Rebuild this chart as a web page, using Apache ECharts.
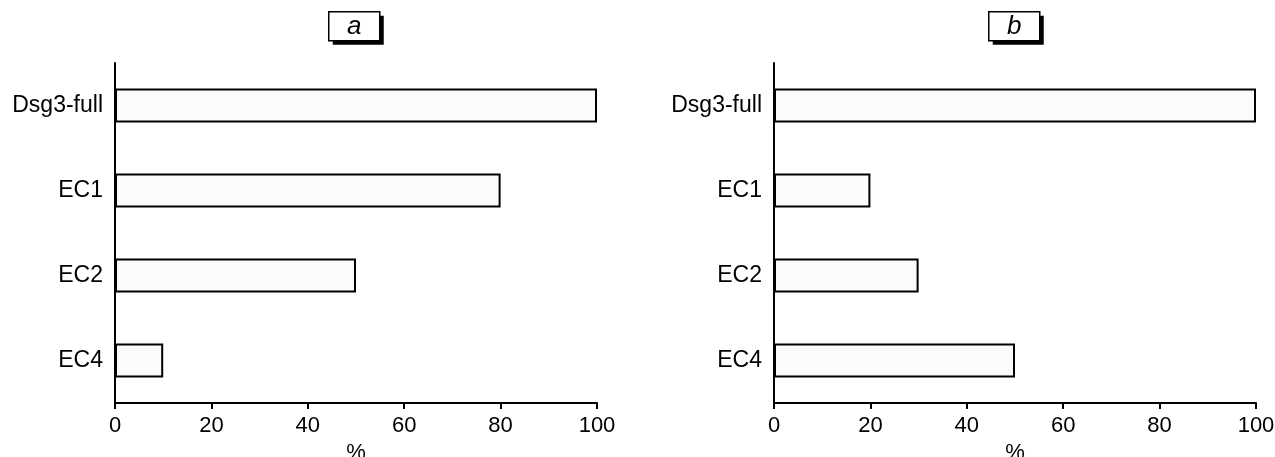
<!DOCTYPE html>
<html>
<head>
<meta charset="utf-8">
<script src="https://cdn.jsdelivr.net/npm/echarts@6/dist/echarts.min.js"></script>
<style>
  html, body { margin: 0; padding: 0; background: #fff; }
  #chart { width: 1275px; height: 457px; }
</style>
</head>
<body>
<div id="chart"></div>
<script>
const categories = ["Dsg3-full", "EC1", "EC2", "EC4"];
const valuesA = [100, 80, 50, 10];
const valuesB = [100, 20, 30, 50];
const panelLabels = ["a", "b"];

const font = "Liberation Sans, Arial, sans-serif";
const myChart = echarts.init(document.getElementById("chart"));

// boxed panel letter with a hard black drop shadow
const panelBox = (text, x) => ({
  type: "group",
  left: x,
  top: 11,
  children: [
    { type: "rect", shape: { x: 4, y: 4, width: 51, height: 29 }, style: { fill: "#000" } },
    { type: "rect", shape: { x: 0, y: 0, width: 51, height: 29 }, style: { fill: "#fff", stroke: "#000", lineWidth: 1.5 } },
    {
      type: "text", x: 25.5, y: 15,
      style: { text: text, fill: "#000", font: "italic 26px " + font, align: "center", verticalAlign: "middle" }
    }
  ]
});

const xAxis = (idx) => ({
  gridIndex: idx,
  type: "value",
  min: 0,
  max: 100,
  interval: 20,
  name: "%",
  nameLocation: "middle",
  nameGap: 32,
  nameTextStyle: { fontFamily: font, fontSize: 22, color: "#000" },
  axisLine: { show: true, lineStyle: { color: "#000", width: 2 } },
  axisTick: { show: true, length: 6, lineStyle: { color: "#000", width: 2 } },
  axisLabel: { fontFamily: font, fontSize: 22, color: "#000", margin: 12 },
  splitLine: { show: false }
});

const yAxis = (idx) => ({
  gridIndex: idx,
  type: "category",
  data: categories,
  inverse: true,
  axisLine: { show: true, lineStyle: { color: "#000", width: 2 } },
  axisTick: { show: false },
  axisLabel: { fontFamily: font, fontSize: 23, color: "#000", margin: 12 },
  splitLine: { show: false }
});

const barSeries = (idx, data) => ({
  type: "bar",
  xAxisIndex: idx,
  yAxisIndex: idx,
  data: data,
  barWidth: 34,
  itemStyle: { color: "#fbfbfb", borderColor: "#000", borderWidth: 2 }
});

const option = {
  backgroundColor: "#fff",
  animation: false,
  graphic: [panelBox(panelLabels[0], 328), panelBox(panelLabels[1], 988)],
  grid: [
    { left: 115, right: 678, top: 63, bottom: 54, containLabel: false, outerBoundsMode: "none" },
    { left: 774, right: 19, top: 63, bottom: 54, containLabel: false, outerBoundsMode: "none" }
  ],
  xAxis: [xAxis(0), xAxis(1)],
  yAxis: [yAxis(0), yAxis(1)],
  series: [barSeries(0, valuesA), barSeries(1, valuesB)]
};

myChart.setOption(option);
</script>
</body>
</html>
